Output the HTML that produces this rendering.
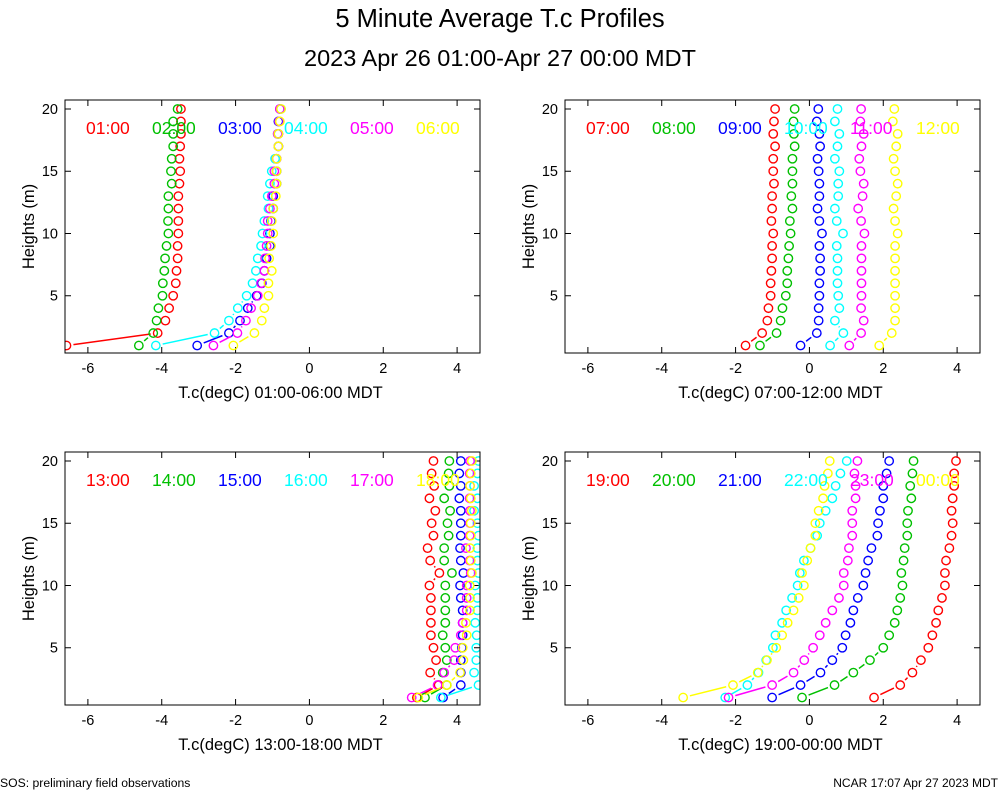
<!DOCTYPE html>
<html><head><meta charset="utf-8"><style>
body{margin:0;background:#fff;}
svg{display:block;font-family:"Liberation Sans",sans-serif;}
</style></head><body>
<svg id="chart" width="1000" height="800" viewBox="0 0 1000 800">
<text x="500" y="27" font-size="25.5" text-anchor="middle">5 Minute Average T.c Profiles</text>
<text x="500" y="66" font-size="23.5" text-anchor="middle">2023 Apr 26 01:00-Apr 27 00:00 MDT</text>
<text x="0" y="787" font-size="12.2">SOS: preliminary field observations</text>
<text x="998" y="787" font-size="12" text-anchor="end">NCAR 17:07 Apr 27 2023 MDT</text>
</svg>
<script>
const heights=[1,2,3,4,5,6,7,8,9,10,11,12,13,14,15,16,17,18,19,20];
const xTicks=[-6,-4,-2,0,2,4];
const yTicks=[5,10,15,20];
const colors=["#ff0000","#00c000","#0000ff","#00ffff","#ff00ff","#ffff00"];
const p1Labels=["01:00","02:00","03:00","04:00","05:00","06:00"];
const p2Labels=["07:00","08:00","09:00","10:00","11:00","12:00"];
const p3Labels=["13:00","14:00","15:00","16:00","17:00","18:00"];
const p4Labels=["19:00","20:00","21:00","22:00","23:00","00:00"];
const p1Titles="T.c(degC) 01:00-06:00 MDT";
const p2Titles="T.c(degC) 07:00-12:00 MDT";
const p3Titles="T.c(degC) 13:00-18:00 MDT";
const p4Titles="T.c(degC) 19:00-00:00 MDT";
const s0100=[-6.58,-4.11,-3.9,-3.8,-3.69,-3.62,-3.6,-3.57,-3.57,-3.55,-3.55,-3.55,-3.55,-3.52,-3.5,-3.52,-3.5,-3.48,-3.48,-3.48];
const s0200=[-4.62,-4.23,-4.14,-4.09,-3.98,-3.97,-3.93,-3.91,-3.87,-3.82,-3.83,-3.82,-3.82,-3.73,-3.75,-3.73,-3.69,-3.69,-3.69,-3.57];
const s0300=[-3.04,-2.18,-1.88,-1.67,-1.43,-1.29,-1.22,-1.16,-1.07,-1.07,-1.04,-0.98,-0.98,-0.89,-0.89,-0.89,-0.84,-0.84,-0.84,-0.80];
const s0400=[-4.16,-2.57,-2.18,-1.94,-1.70,-1.54,-1.45,-1.40,-1.31,-1.27,-1.22,-1.11,-1.13,-1.07,-1.02,-0.93,-0.84,-0.86,-0.82,-0.77];
const s0500=[-2.6,-1.95,-1.72,-1.58,-1.40,-1.31,-1.22,-1.2,-1.16,-1.13,-1.13,-1.07,-1.02,-0.95,-0.95,-0.89,-0.84,-0.86,-0.82,-0.80];
const s0600=[-2.06,-1.49,-1.29,-1.22,-1.11,-1.11,-1.02,-1.09,-1.04,-0.98,-1.02,-0.98,-0.91,-0.89,-0.89,-0.89,-0.84,-0.84,-0.80,-0.77];
const s0700=[-1.73,-1.28,-1.14,-1.11,-1.05,-1.05,-1.03,-1.01,-1.01,-0.98,-1.03,-1.01,-1.01,-0.96,-0.98,-0.98,-0.93,-0.98,-0.96,-0.93];
const s0800=[-1.34,-0.89,-0.78,-0.73,-0.64,-0.60,-0.60,-0.57,-0.55,-0.51,-0.53,-0.46,-0.49,-0.46,-0.46,-0.46,-0.40,-0.42,-0.43,-0.40];
const s0900=[-0.24,0.20,0.25,0.25,0.27,0.27,0.29,0.29,0.27,0.34,0.27,0.22,0.27,0.27,0.25,0.22,0.29,0.27,0.20,0.24];
const s1000=[0.56,0.92,0.69,0.81,0.78,0.76,0.76,0.76,0.74,0.91,0.74,0.69,0.78,0.78,0.81,0.69,0.76,0.81,0.69,0.76];
const s1100=[1.08,1.40,1.47,1.40,1.41,1.41,1.41,1.41,1.41,1.49,1.40,1.32,1.44,1.47,1.38,1.35,1.41,1.47,1.38,1.40];
const s1200=[1.89,2.23,2.32,2.32,2.32,2.32,2.32,2.32,2.32,2.39,2.32,2.28,2.35,2.39,2.32,2.28,2.35,2.39,2.26,2.30];
const s1300=[2.91,3.50,3.27,3.43,3.36,3.29,3.29,3.29,3.29,3.25,3.52,3.27,3.20,3.36,3.31,3.41,3.25,3.38,3.31,3.36];
const s1400=[3.13,3.72,3.61,3.72,3.68,3.61,3.68,3.68,3.68,3.68,3.86,3.65,3.65,3.77,3.74,3.81,3.65,3.79,3.77,3.79];
const s1500=[3.62,4.10,4.10,4.10,4.13,4.15,4.15,4.15,4.10,4.08,4.17,4.10,4.08,4.10,4.10,4.10,4.06,4.10,4.06,4.10];
const s1600=[3.56,4.58,4.46,4.52,4.52,4.53,4.49,4.55,4.55,4.49,4.58,4.55,4.55,4.58,4.55,4.46,4.55,4.46,4.55,4.58];
const s1700=[2.77,3.47,3.65,3.92,3.95,4.10,4.15,4.26,4.26,4.26,4.37,4.34,4.24,4.34,4.35,4.35,4.34,4.35,4.34,4.35];
const s1800=[2.95,3.72,4.08,4.17,4.15,4.26,4.24,4.35,4.35,4.34,4.40,4.37,4.35,4.37,4.37,4.40,4.37,4.35,4.37,4.40];
const s1900=[1.75,2.46,2.79,3.02,3.22,3.33,3.43,3.49,3.59,3.67,3.67,3.70,3.79,3.85,3.88,3.85,3.88,3.92,3.92,3.97];
const s2000=[-0.20,0.68,1.19,1.64,2.00,2.16,2.31,2.38,2.46,2.52,2.49,2.55,2.58,2.65,2.65,2.67,2.76,2.73,2.79,2.82];
const s2100=[-1.01,-0.24,0.30,0.62,0.89,0.98,1.11,1.19,1.31,1.46,1.52,1.59,1.68,1.84,1.86,1.91,2.00,2.00,2.09,2.16];
const s2200=[-2.28,-1.68,-1.38,-1.17,-0.99,-0.92,-0.74,-0.63,-0.47,-0.32,-0.26,-0.15,0.03,0.21,0.28,0.44,0.62,0.71,0.84,1.01];
const s2300=[-2.19,-1.01,-0.43,-0.14,0.10,0.28,0.44,0.62,0.80,0.93,0.93,1.04,1.07,1.16,1.16,1.16,1.25,1.25,1.22,1.30];
const s0000=[-3.42,-2.07,-1.40,-1.15,-0.90,-0.74,-0.59,-0.43,-0.29,-0.15,-0.20,-0.06,0.03,0.16,0.16,0.25,0.37,0.41,0.50,0.55];

const NS="http://www.w3.org/2000/svg";
const svg=document.getElementById('chart');
function mk(tag,attrs,parent){const e=document.createElementNS(NS,tag);for(const k in attrs)e.setAttribute(k,attrs[k]);(parent||svg).appendChild(e);return e;}
const X0=-6.62,X1=4.62,Y0=0.4,Y1=20.72;
const panels=[
 {x:65,y:100,labels:p1Labels,title:p1Titles,series:[s0100,s0200,s0300,s0400,s0500,s0600],id:'p1'},
 {x:565,y:100,labels:p2Labels,title:p2Titles,series:[s0700,s0800,s0900,s1000,s1100,s1200],id:'p2'},
 {x:65,y:452,labels:p3Labels,title:p3Titles,series:[s1300,s1400,s1500,s1600,s1700,s1800],id:'p3'},
 {x:565,y:452,labels:p4Labels,title:p4Titles,series:[s1900,s2000,s2100,s2200,s2300,s0000],id:'p4'}];
const W=415,H=253;
panels.forEach((p,pi)=>{
 const g=mk('g',{});
 
 
 const sx=v=>p.x+(v-X0)/(X1-X0)*W;
 const sy=v=>p.y+H-(v-Y0)/(Y1-Y0)*H;
 const cid='clip'+pi;
 const cp=mk('clipPath',{id:cid},g);mk('rect',{x:p.x,y:p.y,width:W,height:H},cp);
 xTicks.forEach(t=>{const x=sx(t);
  const tk=mk('path',{d:`M${x},${p.y+H}v-6M${x},${p.y}v6`,stroke:'#000','stroke-width':1},g);
  
  
  const tl=mk('text',{x:x,y:p.y+H+20,'font-size':14.5,'text-anchor':'middle'},g);tl.textContent=t;
  
  });
 yTicks.forEach(t=>{const y=sy(t);
  const tk=mk('path',{d:`M${p.x},${y}h6M${p.x+W},${y}h-6`,stroke:'#000','stroke-width':1},g);
  
  
  const tl=mk('text',{x:p.x-7,y:y+5,'font-size':14.5,'text-anchor':'end'},g);tl.textContent=t;
  
  });
 const yt=mk('text',{x:0,y:0,'font-size':16.5,'text-anchor':'middle',transform:`translate(${p.x-31},${p.y+H/2}) rotate(-90)`},g);yt.textContent='Heights (m)';
 
 
 const xt=mk('text',{x:p.x+W/2+8,y:p.y+H+45,'font-size':16.5,'text-anchor':'middle'},g);xt.textContent=p.title;
 
 
 const sg=mk('g',{'clip-path':`url(#${cid})`},g);
 p.series.forEach((s,si)=>{
  const c=colors[si];
  const ser=mk('g',{},sg);
  
  
  const pts=s.map((v,i)=>[sx(v),sy(heights[i])]);
  for(let i=0;i<pts.length-1;i++){
   const [ax,ay]=pts[i],[bx,by]=pts[i+1];const dx=bx-ax,dy=by-ay,L=Math.hypot(dx,dy),gap=7;
   if(L>2*gap+1){const ux=dx/L,uy=dy/L;
    mk('line',{x1:ax+ux*gap,y1:ay+uy*gap,x2:bx-ux*gap,y2:by-uy*gap,stroke:c,'stroke-width':1.5},ser);}
  }
  pts.forEach(([x,y])=>{const ci=mk('circle',{cx:x,cy:y,r:4.2,fill:'none',stroke:c,'stroke-width':1.4},ser);
   
   });
 });
 p.labels.forEach((l,li)=>{const t=mk('text',{x:p.x+21+li*66,y:p.y+34,'font-size':17.5,fill:colors[li]},g);t.textContent=l;
  
  });
 const fr=mk('rect',{x:p.x,y:p.y,width:W,height:H,fill:'none',stroke:'#000','stroke-width':1},g);
 
 
});
</script>
</body></html>
